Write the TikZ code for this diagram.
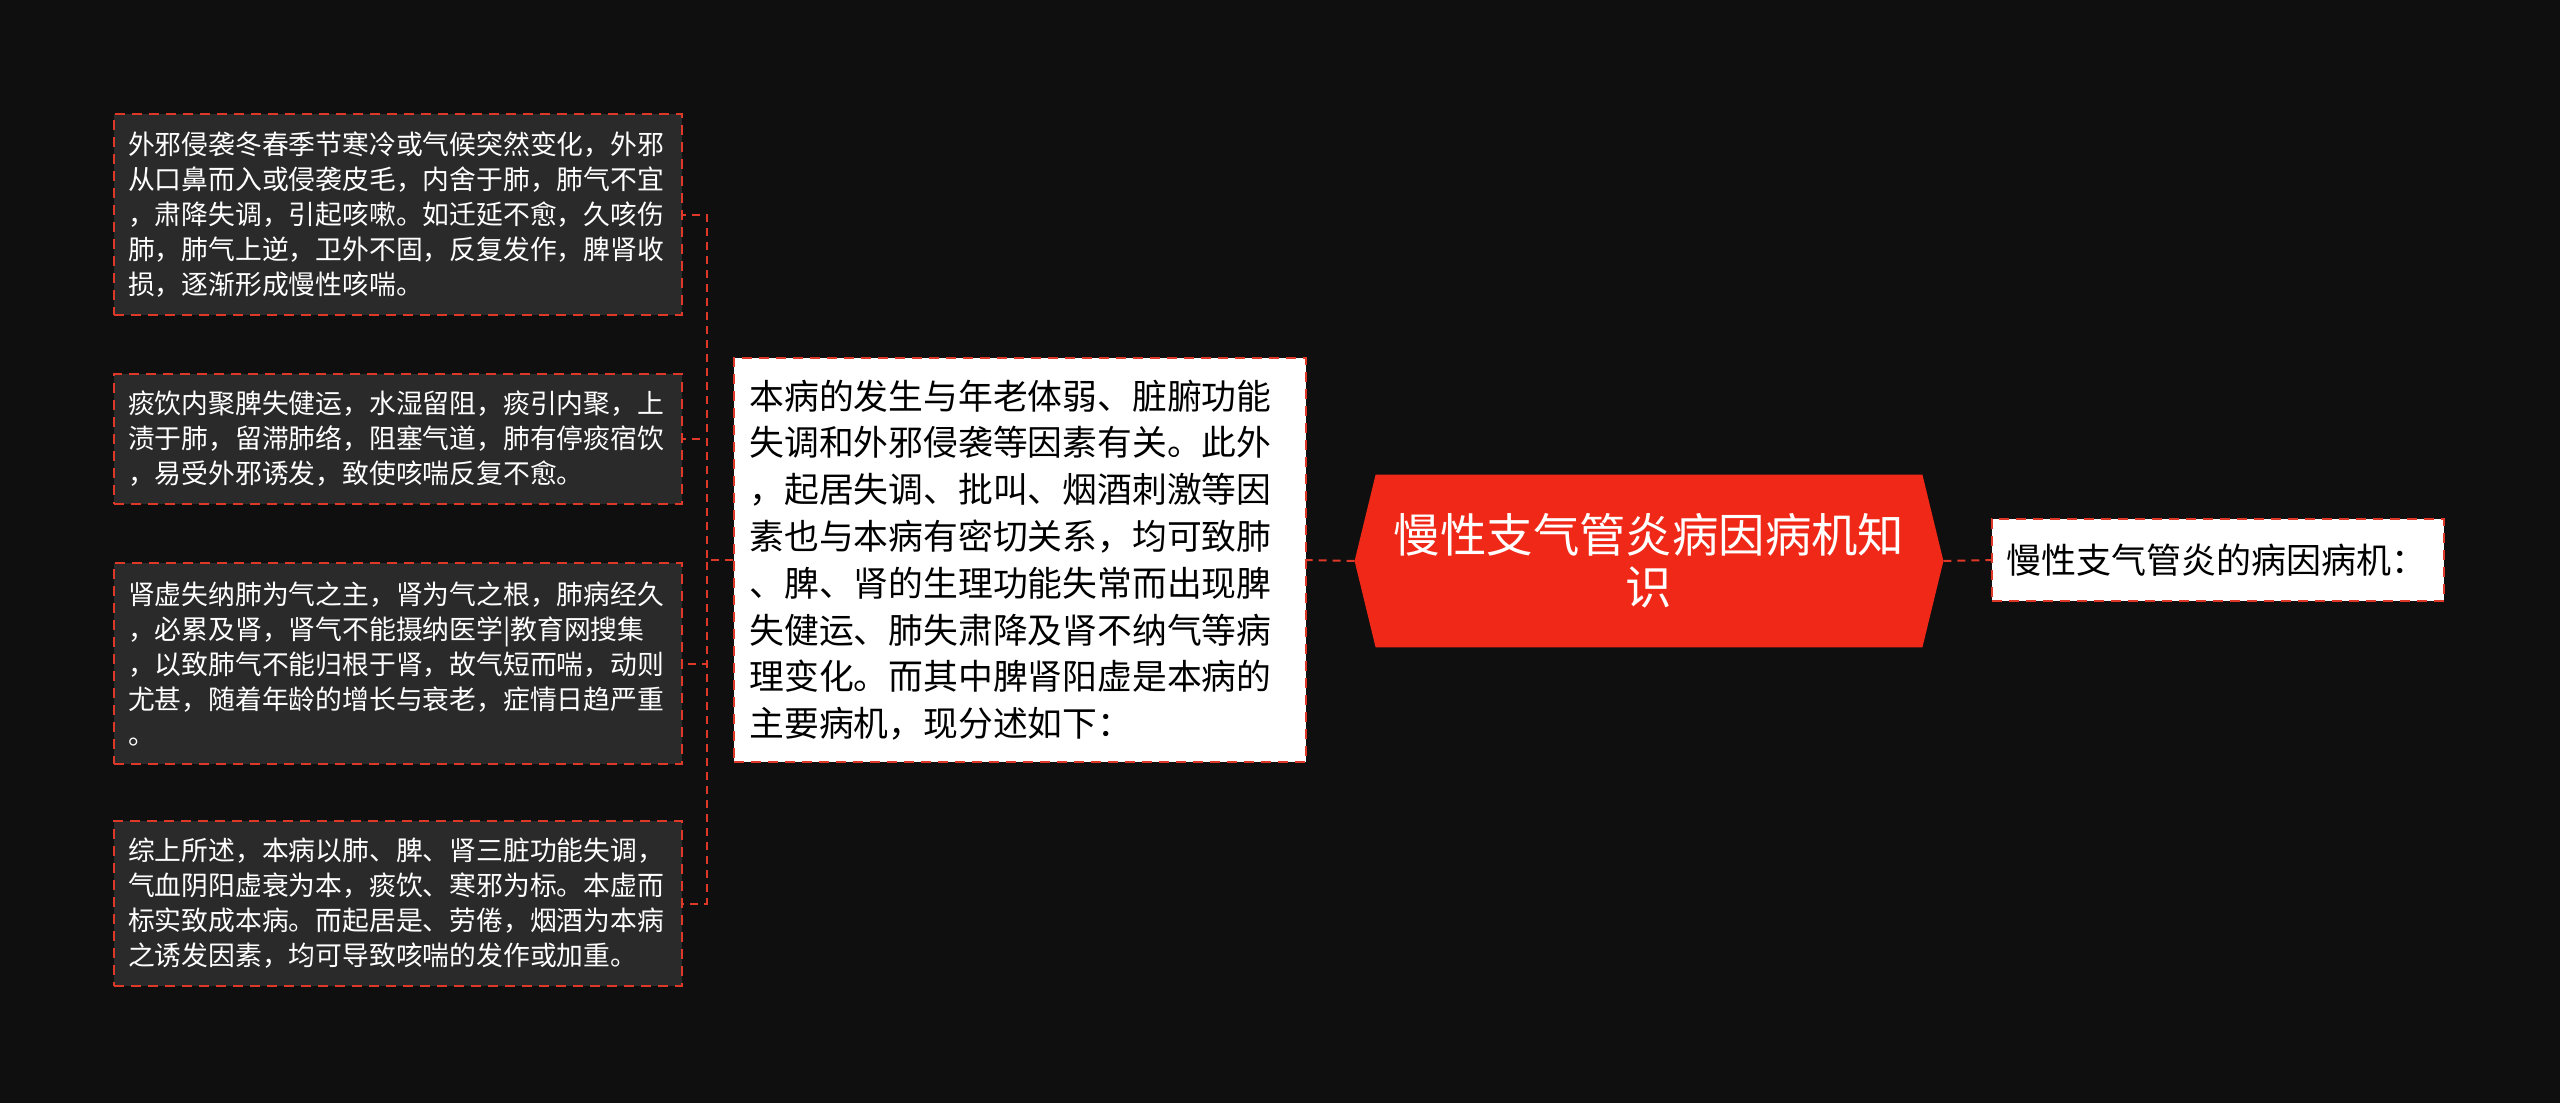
\documentclass[tikz,border=0pt]{standalone}
\usepackage{fontspec}
\setmainfont{Noto Sans CJK SC}
\usetikzlibrary{backgrounds}
\definecolor{bgdark}{RGB}{15,15,15}
\definecolor{leafgray}{RGB}{42,42,42}
\definecolor{linered}{RGB}{222,56,40}
\definecolor{rootred}{RGB}{240,40,24}

\begin{document}
\begin{tikzpicture}[x=0.5pt,y=-0.5pt,
  leaf/.style={draw=linered,line width=1pt,dash pattern=on 5pt off 3.5pt,fill=leafgray,text=white,
    align=left,text width=270pt,inner xsep=7pt,inner ysep=0pt,font=\fontsize{13.4}{17.5}\selectfont},
  mid/.style={draw=linered,line width=1pt,dash pattern=on 5pt off 3.5pt,fill=white,text=black,
    align=left,text width=270pt,inner xsep=8pt,inner ysep=0pt,minimum height=202pt,font=\fontsize{17.4}{23.4}\selectfont},
  link/.style={draw=linered,line width=1pt,dash pattern=on 4pt off 3pt}]
\useasboundingbox (0,0) rectangle (2560,1103);

% the four causes
\node [leaf,minimum height=100.5pt] (l1) at (398,214.5) {外邪侵袭冬春季节寒冷或气候突然变化，外邪\\从口鼻而入或侵袭皮毛，内舍于肺，肺气不宜\\，肃降失调，引起咳嗽。如迁延不愈，久咳伤\\肺，肺气上逆，卫外不固，反复发作，脾肾收\\损，逐渐形成慢性咳喘。};
\node [leaf,minimum height=65pt] (l2) at (398,439) {痰饮内聚脾失健运，水湿留阻，痰引内聚，上\\渍于肺，留滞肺络，阻塞气道，肺有停痰宿饮\\，易受外邪诱发，致使咳喘反复不愈。};
\node [leaf,minimum height=100.5pt] (l3) at (398,663.5) {肾虚失纳肺为气之主，肾为气之根，肺病经久\\，必累及肾，肾气不能摄纳医学|教育网搜集\\，以致肺气不能归根于肾，故气短而喘，动则\\尤甚，随着年龄的增长与衰老，症情日趋严重\\。};
\node [leaf,minimum height=82.5pt] (l4) at (398,903.5) {综上所述，本病以肺、脾、肾三脏功能失调，\\气血阴阳虚衰为本，痰饮、寒邪为标。本虚而\\标实致成本病。而起居是、劳倦，烟酒为本病\\之诱发因素，均可导致咳喘的发作或加重。};

\node [mid] (mid) at (1019.5,560) {本病的发生与年老体弱、脏腑功能\\失调和外邪侵袭等因素有关。此外\\，起居失调、批叫、烟酒刺激等因\\素也与本病有密切关系，均可致肺\\、脾、肾的生理功能失常而出现脾\\失健运、肺失肃降及肾不纳气等病\\理变化。而其中脾肾阳虚是本病的\\主要病机，现分述如下：};

\node [text=white,align=center,minimum width=294pt,minimum height=86pt,inner sep=0pt,
  font=\fontsize{23.2}{26}\selectfont] (root) at (1649,561) {慢性支气管炎病因病机知\\识};

\node [draw=linered,line width=1pt,dash pattern=on 5pt off 3.5pt,fill=white,text=black,align=left,
  text width=212pt,inner xsep=7pt,inner ysep=0pt,minimum height=41pt,
  font=\fontsize{17.5}{21}\selectfont] (title) at (2218,560) {慢性支气管炎的病因病机：};

\begin{scope}[on background layer]
\fill[bgdark] (0,0) rectangle (2560,1103);
\fill[rootred] (root.west) -- ([xshift=10.5pt]root.north west) -- ([xshift=-10.5pt]root.north east)
  -- (root.east) -- ([xshift=-10.5pt]root.south east) -- ([xshift=10.5pt]root.south west) -- cycle;
\end{scope}

\draw[link] (root.west) -- (mid.east);
\draw[link] (root.east) -- (title.west);
\foreach \n in {l1,l2,l3,l4}
  \draw[link] (mid.west) -- ++(-26,0) |- (\n.east);
\end{tikzpicture}
\end{document}
